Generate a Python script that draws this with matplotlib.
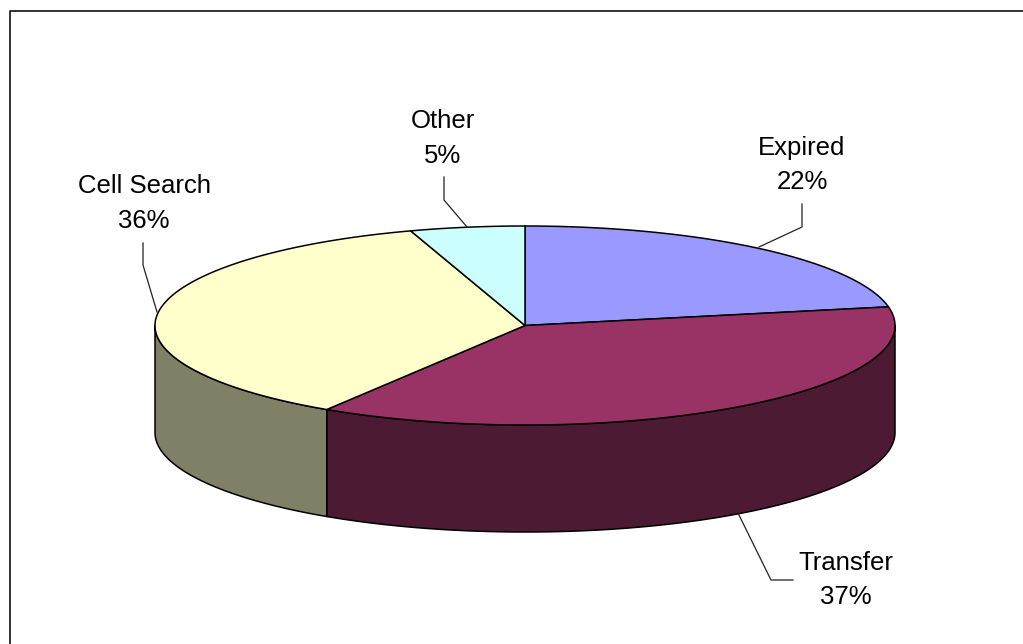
import matplotlib
matplotlib.use('Agg')
import matplotlib.pyplot as plt
import numpy as np
from matplotlib.patches import Polygon

plt.rcParams['font.family'] = ['Liberation Sans', 'DejaVu Sans']

labels = ['Expired', 'Transfer', 'Cell Search', 'Other']
values = [22, 37, 36, 5]
top_colors = ['#9999FF', '#993366', '#FFFFCC', '#CCFFFF']
side_colors = ['#4D4D80', '#4D1A33', '#808066', '#668080']

# pie geometry in pixels
cx, cy = 525, 325.5
rx, ry = 370, 99.5
depth = 107

# label centre and leader line for each slice, same order as labels
label_pos = [(802, 165), (846, 580), (144, 203.5), (443, 138.5)]
leaders = [
    [(802, 204), (802, 227), (759, 247)],
    [(738, 513), (771, 580), (793, 580)],
    [(143, 243), (143, 265), (157, 312)],
    [(444, 177), (444, 200), (467, 227)],
]


def rim(t0, t1, dy=0):
    # t in degrees, clockwise from 12 o'clock
    t = np.radians(np.linspace(t0, t1, max(2, int(abs(t1 - t0) * 2))))
    return np.column_stack([cx + rx * np.sin(t), cy + dy - ry * np.cos(t)])


fig = plt.figure(figsize=(10.23, 6.44), dpi=100)
ax = fig.add_axes([0, 0, 1, 1])
ax.set_xlim(0, 1023)
ax.set_ylim(644, 0)
ax.axis('off')

# only the top and left of the chart frame are inside the picture
ax.plot([1023, 9.5, 9.5], [10.5, 10.5, 644], color='#111111', lw=1.2)

edges = np.cumsum([0] + values) / sum(values) * 360

# side wall, only the front half of the rim shows
for i in range(len(values)):
    t0, t1 = max(edges[i], 90), min(edges[i + 1], 270)
    if t1 <= t0:
        continue
    pts = np.vstack([rim(t0, t1), rim(t0, t1, depth)[::-1]])
    ax.add_patch(Polygon(pts, closed=True, fc=side_colors[i], ec='black', lw=1.1, joinstyle='round'))

# top face
for i in range(len(values)):
    pts = np.vstack([[(cx, cy)], rim(edges[i], edges[i + 1])])
    ax.add_patch(Polygon(pts, closed=True, fc=top_colors[i], ec='black', lw=1.1, joinstyle='round'))

for i, name in enumerate(labels):
    xs, ys = zip(*leaders[i])
    ax.plot(xs, ys, color='#222222', lw=0.9)
    ax.text(label_pos[i][0], label_pos[i][1], f'{name}\n{values[i]}%', ha='center', va='center',
            fontsize=18.5, linespacing=1.55, color='black')

fig.savefig('out.png', dpi=100)
